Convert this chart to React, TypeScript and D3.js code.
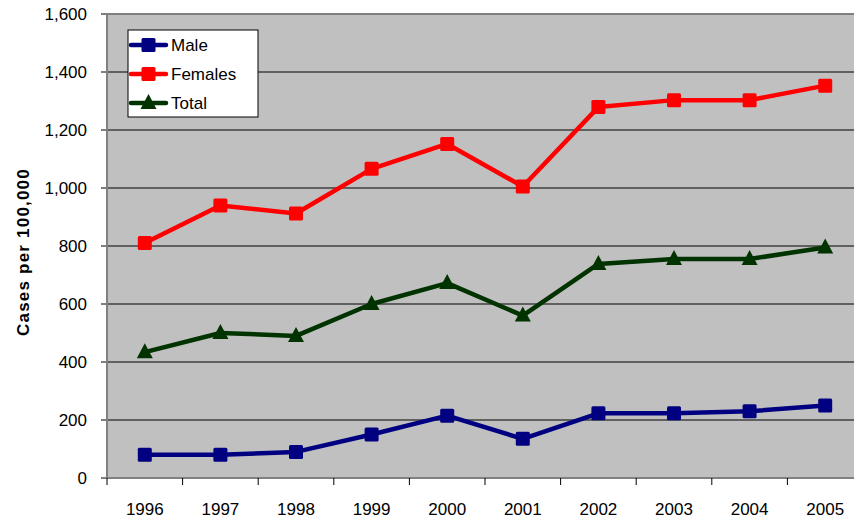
import React from "react";
import * as d3 from "d3";

const years = ["1996", "1997", "1998", "1999", "2000", "2001", "2002", "2003", "2004", "2005"];
const male = [80, 80, 90, 150, 215, 135, 223, 223, 230, 250];
const females = [810, 940, 912, 1066, 1152, 1005, 1279, 1303, 1303, 1353];
const total = [434, 500, 490, 600, 672, 560, 738, 755, 755, 795];
const yTicks = [0, 200, 400, 600, 800, 1000, 1200, 1400, 1600];

const W = 854, H = 520;
const L = 107, R = 863, T = 14, B = 478;

export default function App() {
  const x = d3.scaleBand<string>().domain(years).range([L, R]);
  const y = d3.scaleLinear().domain([0, 1600]).range([B, T]);
  const cx = (d: string) => (x(d) as number) + x.bandwidth() / 2;
  const line = d3.line<[string, number]>().x((d) => cx(d[0])).y((d) => y(d[1]));
  const series = [
    { name: "Male", values: male, color: "#000080", shape: "square" },
    { name: "Females", values: females, color: "#FF0000", shape: "square" },
    { name: "Total", values: total, color: "#003300", shape: "triangle" },
  ];
  const font = "'Liberation Sans', Arial, sans-serif";
  const marker = (shape: string, px: number, py: number, color: string, key: string) =>
    shape === "square" ? (
      <rect key={key} x={px - 7} y={py - 7} width={14} height={14} rx={1.5} fill={color} />
    ) : (
      <path key={key} d={`M${px},${py - 9}L${px + 8},${py + 6}L${px - 8},${py + 6}Z`} fill={color} />
    );
  return (
    <svg width={W} height={H} style={{ display: "block", position: "absolute", left: 0, top: 0 }} fontFamily={font}>
      <rect x={0} y={0} width={W} height={H} fill="#fff" />
      <rect x={L} y={T} width={R - L} height={B - T} fill="#C0C0C0" />
      {yTicks.map((t) => (
        <g key={t}>
          {t > 0 && <line x1={L} x2={R} y1={y(t)} y2={y(t)} stroke={t === 1600 ? "#808080" : "#000"} strokeWidth={t === 1600 ? 2 : 1} />}
          <line x1={L - 6} x2={L} y1={y(t)} y2={y(t)} stroke="#000" />
          <text x={L - 20} y={y(t)} dy="0.35em" textAnchor="end" fontSize={17}>
            {d3.format(",")(t)}
          </text>
        </g>
      ))}
      <line x1={L} x2={L} y1={T} y2={B} stroke="#808080" strokeWidth={2} />
      <line x1={L} x2={R} y1={B} y2={B} stroke="#808080" strokeWidth={2} />
      {years.map((yr) => (
        <g key={yr}>
          <line x1={(x(yr) as number)} x2={(x(yr) as number)} y1={B} y2={B + 7} stroke="#000" />
          <text x={cx(yr)} y={509} dy="0.35em" textAnchor="middle" fontSize={17}>
            {yr}
          </text>
        </g>
      ))}
      <text transform={`translate(23,252) rotate(-90)`} dy="0.35em" textAnchor="middle" fontSize={17} fontWeight="bold" letterSpacing={1.2}>
        Cases per 100,000
      </text>
      {series.map((s) => (
        <g key={s.name}>
          <path d={line(years.map((yr, i) => [yr, s.values[i]]) as any) || ""} fill="none" stroke={s.color} strokeWidth={4.5} strokeLinejoin="round" />
          {years.map((yr, i) => marker(s.shape, cx(yr), y(s.values[i]), s.color, s.name + yr))}
        </g>
      ))}
      <rect x={128} y={30} width={130} height={87} fill="#fff" stroke="#000" strokeWidth={1} />
      {series.map((s, i) => {
        const ly = 45 + i * 29;
        return (
          <g key={s.name}>
            <line x1={131} x2={166} y1={ly} y2={ly} stroke={s.color} strokeWidth={4.5} strokeLinecap="round" />
            {marker(s.shape, 148.5, ly, s.color, "lg" + s.name)}
            <text x={171} y={ly} dy="0.35em" fontSize={17}>
              {s.name}
            </text>
          </g>
        );
      })}
    </svg>
  );
}
